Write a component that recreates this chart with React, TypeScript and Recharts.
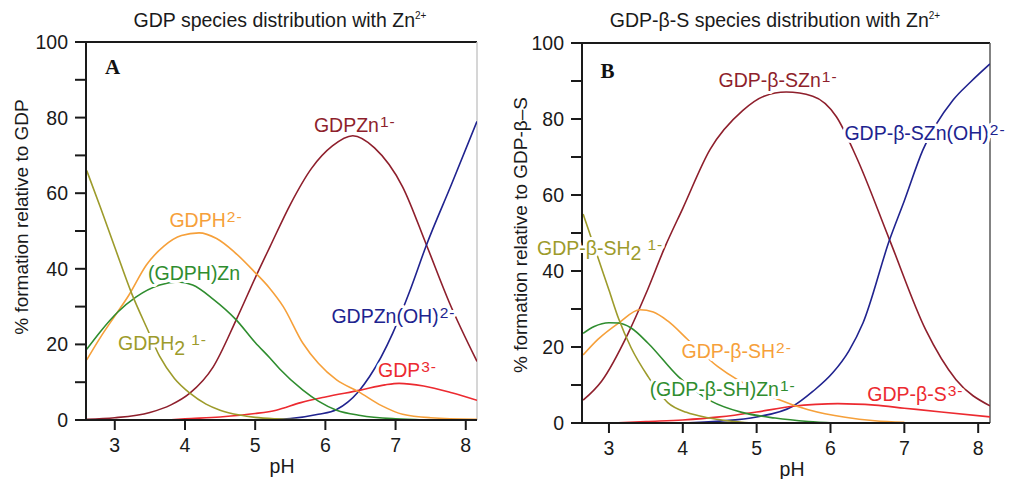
import React from "react";
import { ComposedChart, Line, XAxis, YAxis, ReferenceLine, ReferenceDot } from "recharts";

type Pt = [number, number];

// axis ticks shared by both panels
const phTicks = [3, 4, 5, 6, 7, 8];
const pctTicks = [0, 10, 20, 30, 40, 50, 60, 70, 80, 90, 100];

// panel A: GDP species with Zn2+  ([pH, % formation])
const gdpH2: Pt[] = [[2.6, 66], [2.8, 56], [3.0, 45.7], [3.24, 33.5], [3.47, 23.8], [3.64, 16.8], [3.85, 11], [4.07, 7.1], [4.3, 4.2], [4.5, 2.6], [4.78, 1.3], [5.0, 0.7], [5.3, 0.3], [5.6, 0.1]];
const gdpH: Pt[] = [[2.6, 15.9], [2.8, 22], [3.0, 27.5], [3.2, 33], [3.45, 41], [3.7, 46], [3.95, 48.8], [4.2, 49.5], [4.45, 48], [4.7, 44.5], [5.0, 39], [5.2, 35], [5.4, 30], [5.68, 20.3], [5.9, 15], [6.16, 10.6], [6.47, 7.5], [6.8, 3.8], [7.1, 1.5], [7.5, 0.6], [8.16, 0.2]];
const gdphZn: Pt[] = [[2.6, 18.7], [2.8, 23.5], [3.04, 28.5], [3.3, 32.5], [3.64, 35.7], [3.9, 36.5], [4.11, 35.7], [4.4, 32], [4.73, 26.5], [5.0, 20.5], [5.21, 16.4], [5.35, 13.5], [5.68, 7.9], [5.9, 5], [6.16, 2.6], [6.5, 1.2], [7.0, 0.3], [7.4, 0]];
const gdpZn: Pt[] = [[2.6, 0.2], [3.0, 0.6], [3.5, 2], [3.8, 4], [4.07, 7.1], [4.4, 14], [4.73, 26.5], [5.04, 39.2], [5.21, 45.8], [5.5, 57], [5.8, 66.5], [6.1, 72.5], [6.39, 75.2], [6.7, 72], [7.1, 61.7], [7.44, 46.3], [7.77, 30.9], [8.16, 15.5]];
const gdpZnOH: Pt[] = [[4.9, 0], [5.5, 0.4], [5.9, 1.5], [6.16, 2.8], [6.47, 7.5], [6.63, 11.5], [6.96, 23], [7.2, 34], [7.44, 46.3], [7.8, 62.5], [8.16, 79]];
const gdp3: Pt[] = [[3.75, 0], [4.0, 0.3], [4.5, 0.8], [5.0, 1.7], [5.3, 2.6], [5.65, 4.6], [6.0, 6.1], [6.5, 7.9], [6.85, 9.3], [7.05, 9.7], [7.4, 9], [7.8, 7.2], [8.16, 5.2]];

// panel B: GDP-β-S species with Zn2+
const sH2: Pt[] = [[2.65, 55], [2.86, 43], [3.0, 35], [3.13, 27.5], [3.3, 19.8], [3.53, 12.2], [3.8, 5.3], [4.05, 2.8], [4.34, 1.4], [4.6, 0.6], [4.95, 0]];
const sH: Pt[] = [[2.65, 17.9], [2.85, 22], [3.13, 26.3], [3.42, 29.8], [3.6, 29.2], [3.8, 26.8], [4.07, 21.9], [4.47, 14.9], [4.74, 11.4], [5.0, 8.8], [5.27, 6.4], [5.7, 3.5], [6.2, 1.5], [6.6, 0.6], [7.0, 0.2]];
const sHZn: Pt[] = [[2.65, 23.6], [2.8, 25.4], [3.0, 26.4], [3.13, 26.3], [3.3, 25], [3.53, 21], [3.94, 12.2], [4.39, 5.7], [4.8, 2.8], [5.25, 1.3], [5.7, 0.4], [6.05, 0]];
const sZn: Pt[] = [[2.65, 6], [2.9, 11], [3.26, 23.6], [3.5, 34], [3.76, 46.4], [4.0, 56.5], [4.37, 72], [4.81, 82.2], [5.1, 86], [5.4, 87.1], [5.76, 86], [6.08, 80.6], [6.35, 70], [6.8, 48.2], [7.29, 24.5], [7.7, 11.4], [8.16, 4.5]];
const sZnOH: Pt[] = [[4.0, 0], [4.5, 0.5], [5.0, 1.6], [5.49, 4.4], [5.76, 8.3], [6.03, 13.2], [6.25, 19], [6.44, 26.3], [6.8, 48.2], [7.0, 58.5], [7.25, 71.8], [7.66, 85], [7.9, 89.8], [8.16, 94.5]];
const s3: Pt[] = [[3.05, 0], [3.5, 0.4], [4.0, 0.8], [4.5, 1.6], [5.0, 2.9], [5.49, 4.4], [5.8, 4.9], [6.1, 5.1], [6.6, 4.7], [7.0, 3.9], [7.5, 2.9], [8.16, 1.6]];

// curve labels: [pH, %, text, subscript, superscript]
type Tag = [number, number, string, string, string];
const tagsA: Tag[] = [
  [6.42, 76.3, "GDPZn", "", "1-"],
  [4.3, 51.1, "GDPH", "", "2-"],
  [4.13, 37, "(GDPH)Zn", "", ""],
  [3.68, 18.5, "GDPH", "2", "1-"],
  [6.97, 25.7, "GDPZn(OH)", "", "2-"],
  [7.17, 11.4, "GDP", "", "3-"],
];
const tagsB: Tag[] = [
  [5.29, 88.3, "GDP-β-SZn", "", "1-"],
  [7.28, 74.4, "GDP-β-SZn(OH)", "", "2-"],
  [2.88, 44.2, "GDP-β-SH", "2", "1-"],
  [4.73, 17.1, "GDP-β-SH", "", "2-"],
  [4.54, 7.0, "(GDP-β-SH)Zn", "", "1-"],
  [7.15, 5.7, "GDP-β-S", "", "3-"],
];

const C = {
  darkred: "#8e1f2c",
  orange: "#f6a03a",
  green: "#2f8d2f",
  olive: "#9d9b2b",
  navy: "#20238f",
  red: "#ec2a30",
};
const tagColorsA = [C.darkred, C.orange, C.green, C.olive, C.navy, C.red];
const tagColorsB = [C.darkred, C.navy, C.olive, C.orange, C.green, C.red];

const pts = (a: Pt[]) => a.map(([ph, v]) => ({ ph, v }));

const seriesA = [
  { id: "gdpZn", color: C.darkred, data: pts(gdpZn) },
  { id: "gdpZnOH", color: C.navy, data: pts(gdpZnOH) },
  { id: "gdp3", color: C.red, data: pts(gdp3) },
  { id: "gdpH", color: C.orange, data: pts(gdpH) },
  { id: "gdphZn", color: C.green, data: pts(gdphZn) },
  { id: "gdpH2", color: C.olive, data: pts(gdpH2) },
];
const seriesB = [
  { id: "sZn", color: C.darkred, data: pts(sZn) },
  { id: "sZnOH", color: C.navy, data: pts(sZnOH) },
  { id: "s3", color: C.red, data: pts(s3) },
  { id: "sH", color: C.orange, data: pts(sH) },
  { id: "sHZn", color: C.green, data: pts(sHZn) },
  { id: "sH2", color: C.olive, data: pts(sH2) },
];

const FONT = "'Liberation Sans', Arial, sans-serif";
const INK = "#1a1a1a";

// tick text only; the tick marks come from the axis itself
function YTick({ x, y, payload }: any) {
  const major = payload.value % 20 === 0;
  return (
    <g>
      {!major && <line x1={x} x2={x + 3.5} y1={y} y2={y} stroke="#fff" strokeWidth={3} />}
      {major && (
        <text x={x} y={y} textAnchor="end" dominantBaseline="central" fontSize={19.5} fontFamily={FONT} fill={INK}>
          {payload.value}
        </text>
      )}
    </g>
  );
}

function XTick({ x, y, payload }: any) {
  return (
    <text x={x} y={y + 7} textAnchor="middle" dominantBaseline="central" fontSize={19.5} fontFamily={FONT} fill={INK}>
      {payload.value}
    </text>
  );
}

function CurveTag({ cx, cy, tag, color }: any) {
  const [, , main, sub, sup] = tag as Tag;
  return (
    <text x={cx} y={cy} textAnchor="middle" fontSize={19.5} fontFamily={FONT} fill={color}
      stroke="#fff" strokeWidth={6} strokeLinejoin="round" paintOrder="stroke">
      <tspan>{main}</tspan>
      {sub && <tspan dy={5}>{sub}</tspan>}
      {sup && (
        <tspan dy={sub ? -10 : -5} dx={sub ? 6 : 1} fontSize={15.5} letterSpacing={1}>{sup}</tspan>
      )}
    </text>
  );
}

function Panel({ left, width, margin, xMin, series, tags, colors, letter, letterAt, edge }: any) {
  return (
    <div style={{ position: "absolute", left, top: 0 }}>
      <ComposedChart width={width} height={479} margin={margin}>
        <XAxis type="number" dataKey="ph" domain={[xMin, 8.16]} allowDataOverflow ticks={phTicks} interval={0}
          tick={<XTick />} stroke={INK} tickLine={{ stroke: INK, strokeWidth: 2 }} tickSize={10} tickMargin={8} height={40}
          axisLine={{ stroke: INK, strokeWidth: 2 }} />
        <YAxis type="number" dataKey="v" domain={[0, 100]} allowDataOverflow ticks={pctTicks} interval={0}
          tick={<YTick />} stroke={INK} tickLine={{ stroke: INK, strokeWidth: 2 }} tickSize={11} tickMargin={7} width={60}
          axisLine={{ stroke: INK, strokeWidth: 2 }} />
        <ReferenceLine y={100} stroke={INK} strokeWidth={1.8} ifOverflow="visible" />
        <ReferenceLine x={8.16} stroke={edge} strokeWidth={1.5} ifOverflow="visible" />
        {series.map((s: any) => (
          <Line key={s.id} data={s.data} dataKey="v" type="monotone" stroke={s.color} strokeWidth={1.6}
            dot={false} activeDot={false} isAnimationActive={false} />
        ))}
        {tags.map((t: Tag, i: number) => (
          <ReferenceDot key={i} x={t[0]} y={t[1]} r={0} ifOverflow="visible" zIndex={1000}
            shape={(p: any) => <CurveTag cx={p.cx} cy={p.cy} tag={t} color={colors[i]} />} />
        ))}
        <ReferenceDot x={letterAt[0]} y={letterAt[1]} r={0} ifOverflow="visible" zIndex={1000}
          shape={(p: any) => (
            <text x={p.cx} y={p.cy} textAnchor="middle" fontSize={21} fontWeight="bold"
              fontFamily="'Liberation Serif', 'Times New Roman', serif" fill="#111">{letter}</text>
          )} />
      </ComposedChart>
    </div>
  );
}

const abs = (l: number, t: number, extra: React.CSSProperties = {}): React.CSSProperties => ({
  position: "absolute", left: l, top: t, transform: "translate(-50%, -50%)", whiteSpace: "nowrap",
  fontFamily: FONT, color: INK, ...extra,
});

export default function App() {
  return (
    <div style={{ position: "absolute", left: 0, top: 0, width: 1019, height: 479, background: "#fff", overflow: "hidden" }}>
      <Panel left={0} width={510} margin={{ top: 42, right: 33, bottom: 19, left: 26 }} xMin={2.59}
        series={seriesA} tags={tagsA} colors={tagColorsA} letter="A" letterAt={[2.97, 91.5]} edge="#c9c9c9" />
      <Panel left={510} width={509} margin={{ top: 43, right: 29, bottom: 16, left: 12 }} xMin={2.635}
        series={seriesB} tags={tagsB} colors={tagColorsB} letter="B" letterAt={[2.98, 90.7]} edge="#5a5a5a" />

      <div style={abs(280, 20, { fontSize: 19.5 })}>
        GDP species distribution with Zn<sup style={{ fontSize: 10, verticalAlign: 8 }}>2+</sup>
      </div>
      <div style={abs(775, 20, { fontSize: 19.5 })}>
        GDP-β-S species distribution with Zn<sup style={{ fontSize: 10, verticalAlign: 8 }}>2+</sup>
      </div>

      <div style={abs(22, 217, { fontSize: 19, transform: "translate(-50%, -50%) rotate(-90deg)" })}>
        % formation relative to GDP
      </div>
      <div style={abs(521, 235, { fontSize: 19, transform: "translate(-50%, -50%) rotate(-90deg)" })}>
        % formation relative to GDP-β–S
      </div>

      <div style={abs(282, 466, { fontSize: 19.5 })}>pH</div>
      <div style={abs(792, 469, { fontSize: 19.5 })}>pH</div>
    </div>
  );
}
